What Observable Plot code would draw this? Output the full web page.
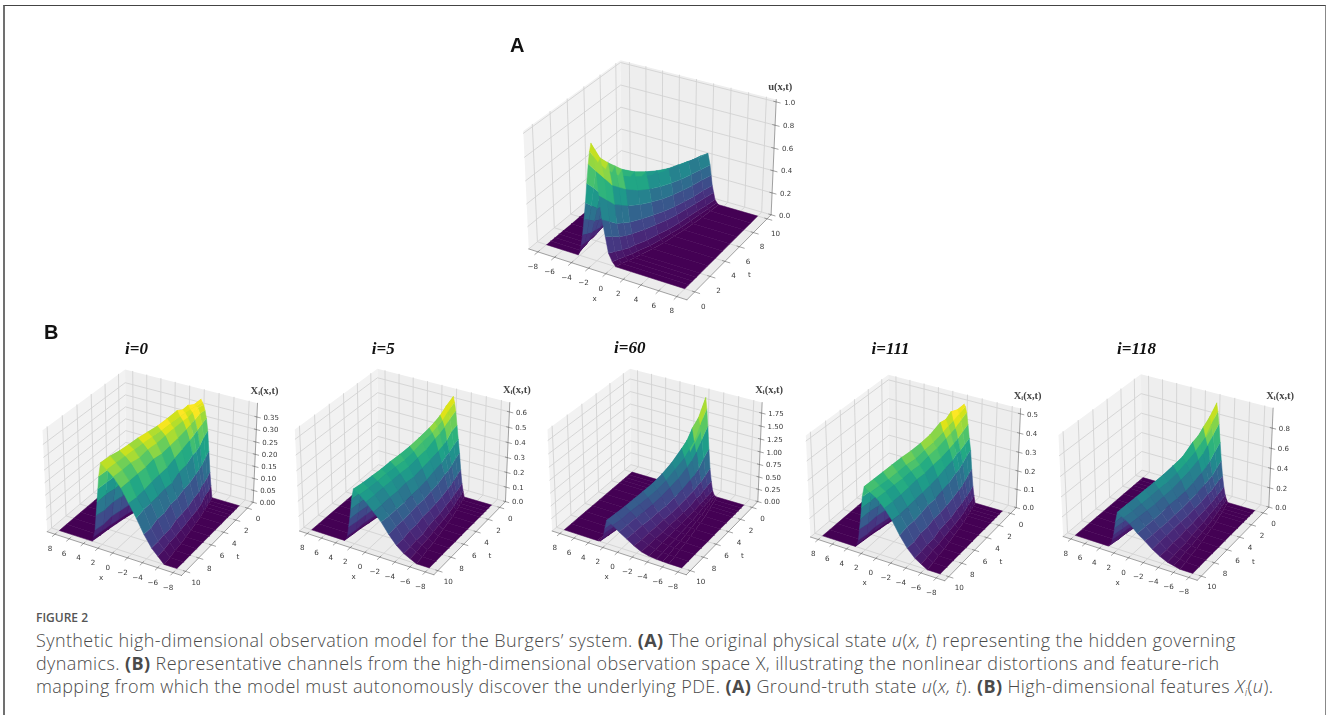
<!DOCTYPE html>
<html><head><meta charset="utf-8">
<script src="https://cdn.jsdelivr.net/npm/d3@7"></script>
<script src="https://cdn.jsdelivr.net/npm/@observablehq/plot@0.6"></script>
<style>
html,body{margin:0;padding:0;background:#fff}
#page{position:relative;width:1328px;height:715px;overflow:hidden;background:#fff}
#frame{position:absolute;left:3px;top:5px;width:1320px;height:720px;border-left:2.5px solid #707070;border-top:1.5px solid #444;border-right:1.5px solid #888}
#chart{position:absolute;left:0;top:0}
#chart svg{filter:blur(.35px)}
#cap{position:absolute;left:36px;top:608px;width:1270px;color:#4a4a4a;font-family:"Open Sans",sans-serif;font-weight:300;font-size:18px;letter-spacing:.4px;line-height:23px;white-space:nowrap}
#cap .h{font-size:12px;font-weight:600;color:#555;line-height:20px;margin-bottom:1px;letter-spacing:0}
#cap b{font-weight:700}
#cap sub{font-size:11px;line-height:0;vertical-align:-3px}
</style></head><body>
<div id="page"><div id="frame"></div><div id="chart"></div>
<div id="cap"><div class="h">FIGURE 2</div>
Synthetic high-dimensional observation model for the Burgers’ system. <b>(A)</b> The original physical state <i>u</i>(<i>x, t</i>) representing the hidden governing<br>
dynamics. <b>(B)</b> Representative channels from the high-dimensional observation space X, illustrating the nonlinear distortions and feature-rich<br>
mapping from which the model must autonomously discover the underlying PDE. <b>(A)</b> Ground-truth state <i>u</i>(<i>x, t</i>). <b>(B)</b> High-dimensional features <i>X<sub>i</sub></i>(<i>u</i>).
</div></div>
<script>
const tRows=[0,.5,1,1.5,2,3,4,5,6,7,8,9,10];
// x position of each mesh knot per t row: left foot, eight up the slope, ridge, six down the front, front foot
const xKnots=[
[-4.2,-4.02,-3.84,-3.62,-3.41,-3.19,-2.98,-2.76,-2.58,-2.4,-1.88,-1.6,-1.31,-.97,-.63,-.2,.2],
[-4.4,-4.15,-3.9,-3.6,-3.3,-3,-2.7,-2.4,-2.15,-1.9,-1.44,-1.18,-.93,-.64,-.34,.03,.4],
[-4.5,-4.2,-3.9,-3.54,-3.18,-2.82,-2.46,-2.1,-1.8,-1.5,-1.06,-.82,-.58,-.29,0,.35,.7],
[-4.7,-4.35,-4,-3.58,-3.16,-2.74,-2.32,-1.9,-1.55,-1.2,-.76,-.52,-.28,.01,.3,.65,1],
[-4.8,-4.41,-4.02,-3.55,-3.08,-2.62,-2.15,-1.68,-1.29,-.9,-.48,-.25,-.02,.25,.53,.87,1.2],
[-5.1,-4.63,-4.16,-3.6,-3.03,-2.47,-1.9,-1.34,-.87,-.4,.02,.25,.48,.75,1.03,1.37,1.7],
[-5.3,-4.77,-4.24,-3.6,-2.97,-2.33,-1.7,-1.06,-.53,0,.42,.65,.88,1.15,1.43,1.77,2.1],
[-5.5,-4.91,-4.32,-3.61,-2.9,-2.2,-1.49,-.78,-.19,.4,.8,1.02,1.24,1.5,1.76,2.08,2.4],
[-5.7,-5.05,-4.4,-3.62,-2.84,-2.06,-1.28,-.5,.15,.8,1.18,1.39,1.6,1.85,2.09,2.4,2.7],
[-5.9,-5.2,-4.5,-3.66,-2.82,-1.98,-1.14,-.3,.4,1.1,1.46,1.66,1.86,2.09,2.32,2.61,2.9],
[-6,-5.26,-4.52,-3.63,-2.74,-1.86,-.97,-.08,.66,1.4,1.74,1.92,2.11,2.33,2.56,2.83,3.1],
[-6.2,-5.41,-4.62,-3.67,-2.72,-1.78,-.83,.12,.91,1.7,2.01,2.18,2.35,2.55,2.75,3,3.25],
[-6.3,-5.47,-4.64,-3.64,-2.65,-1.65,-.66,.34,1.17,2,2.28,2.43,2.59,2.77,2.95,3.18,3.4]];
const uA=[
[.04,.09,.19,.33,.48,.65,.82,.93,1,.78,.58,.38,.24,.1,.035],
[.03,.08,.17,.3,.43,.59,.74,.82,.86,.7,.52,.34,.215,.09,.03],
[.03,.07,.15,.26,.38,.52,.66,.74,.8,.62,.46,.3,.19,.08,.03],
[.03,.07,.14,.24,.36,.48,.61,.69,.75,.58,.43,.28,.175,.07,.025],
[.02,.06,.13,.23,.33,.45,.57,.64,.7,.54,.4,.26,.165,.07,.025],
[.02,.06,.12,.2,.3,.4,.51,.58,.63,.48,.36,.24,.15,.06,.02],
[.02,.05,.11,.19,.27,.37,.47,.53,.58,.44,.33,.22,.14,.06,.02],
[.02,.05,.1,.17,.25,.34,.43,.49,.54,.41,.305,.2,.125,.05,.02],
[.02,.05,.1,.17,.24,.33,.41,.47,.51,.39,.29,.19,.12,.05,.02],
[.02,.04,.09,.16,.23,.31,.39,.45,.49,.37,.275,.18,.115,.05,.02],
[.02,.04,.09,.15,.22,.3,.38,.43,.47,.36,.265,.17,.11,.05,.02],
[.02,.04,.08,.15,.21,.29,.36,.41,.45,.35,.26,.17,.105,.04,.015],
[.02,.04,.08,.14,.21,.28,.35,.4,.44,.34,.25,.16,.1,.04,.015]];
const x0=[
[.05,.105,.19,.27,.32,.35,.37,.38,.39,.37,.33,.29,.2,.115,.04],
[.04,.095,.175,.255,.305,.345,.365,.37,.375,.36,.315,.27,.19,.105,.04],
[.04,.085,.155,.23,.29,.33,.355,.365,.38,.35,.3,.255,.175,.095,.035],
[.04,.085,.15,.22,.28,.32,.345,.36,.37,.34,.29,.245,.165,.085,.03],
[.025,.07,.14,.215,.27,.31,.34,.355,.375,.33,.28,.23,.16,.085,.03],
[.025,.07,.13,.195,.255,.295,.33,.345,.36,.32,.27,.22,.145,.07,.025],
[.025,.06,.125,.19,.24,.285,.32,.335,.35,.31,.26,.21,.14,.07,.025],
[.025,.06,.115,.17,.225,.275,.31,.33,.345,.3,.25,.195,.13,.06,.02],
[.025,.06,.115,.17,.22,.275,.305,.325,.34,.29,.24,.19,.125,.06,.02],
[.025,.05,.105,.165,.215,.265,.295,.32,.335,.285,.23,.18,.12,.06,.02],
[.025,.05,.105,.16,.205,.26,.295,.315,.33,.28,.23,.175,.12,.06,.02],
[.025,.05,.095,.16,.2,.255,.29,.31,.33,.275,.225,.175,.11,.05,.02],
[.025,.05,.095,.15,.2,.25,.285,.305,.325,.27,.22,.165,.11,.05,.02]];
const x5=[
[.04,.09,.18,.29,.38,.47,.56,.615,.65,.54,.43,.32,.21,.1,.035],
[.03,.08,.165,.27,.355,.445,.52,.57,.6,.5,.4,.295,.19,.09,.03],
[.03,.07,.145,.24,.325,.4,.48,.52,.55,.46,.365,.27,.175,.08,.03],
[.03,.07,.135,.225,.31,.38,.455,.495,.52,.44,.345,.25,.16,.07,.025],
[.02,.06,.125,.215,.285,.36,.435,.47,.495,.42,.33,.24,.155,.07,.025],
[.02,.06,.115,.19,.27,.335,.395,.44,.46,.38,.3,.225,.14,.06,.02],
[.02,.05,.105,.18,.245,.315,.375,.41,.435,.355,.28,.21,.135,.06,.02],
[.02,.05,.1,.165,.23,.295,.35,.385,.415,.34,.265,.19,.12,.05,.02],
[.02,.05,.1,.165,.22,.29,.34,.375,.4,.325,.25,.18,.115,.05,.02],
[.02,.04,.09,.155,.21,.275,.33,.365,.385,.31,.24,.175,.11,.05,.02],
[.02,.04,.09,.145,.205,.27,.32,.35,.375,.3,.23,.165,.105,.05,.02],
[.02,.04,.08,.145,.2,.26,.31,.34,.365,.295,.23,.165,.1,.04,.015],
[.02,.04,.08,.135,.2,.25,.3,.335,.36,.29,.22,.155,.1,.04,.015]];
const x60=[
[.01,.03,.11,.29,.54,.92,1.36,1.69,1.9,1.25,.78,.37,.18,.04,.012],
[.01,.03,.09,.25,.45,.78,1.14,1.42,1.55,1.04,.66,.31,.15,.03,.01],
[.01,.02,.08,.2,.37,.62,.94,1.14,1.38,.85,.53,.25,.12,.03,.01],
[.01,.02,.07,.17,.34,.54,.82,1.02,1.18,.75,.46,.21,.1,.02,.008],
[.005,.015,.06,.16,.29,.49,.73,.9,1.06,.66,.41,.2,.09,.02,.008],
[.005,.015,.05,.12,.25,.4,.6,.76,.87,.55,.34,.17,.08,.015,.005],
[.005,.01,.045,.11,.21,.35,.52,.64,.75,.44,.28,.15,.07,.015,.005],
[.005,.01,.04,.09,.18,.3,.45,.56,.66,.38,.24,.12,.06,.01,.004],
[.005,.01,.04,.09,.17,.28,.4,.51,.6,.35,.22,.11,.055,.01,.004],
[.005,.01,.03,.08,.155,.26,.37,.475,.56,.32,.2,.1,.05,.01,.004],
[.005,.01,.03,.07,.145,.25,.36,.45,.52,.31,.19,.09,.045,.01,.004],
[.005,.01,.025,.07,.13,.23,.33,.41,.49,.3,.19,.09,.045,.01,.004],
[.005,.01,.025,.06,.13,.22,.31,.4,.46,.29,.18,.08,.04,.01,.004]];
const x111=[
[.04,.09,.18,.28,.34,.41,.47,.5,.51,.455,.37,.295,.2,.1,.035],
[.03,.08,.165,.26,.32,.385,.44,.47,.49,.43,.355,.28,.185,.09,.03],
[.03,.07,.145,.235,.3,.36,.41,.445,.49,.4,.33,.26,.17,.08,.03],
[.03,.07,.135,.22,.295,.345,.395,.43,.46,.38,.315,.25,.16,.07,.025],
[.02,.06,.125,.21,.275,.33,.38,.41,.455,.365,.3,.235,.15,.07,.025],
[.02,.06,.115,.19,.26,.31,.355,.38,.415,.345,.285,.225,.14,.06,.02],
[.02,.05,.105,.18,.24,.3,.34,.365,.395,.325,.265,.21,.135,.06,.02],
[.02,.05,.1,.165,.23,.285,.32,.345,.38,.315,.25,.19,.12,.05,.02],
[.02,.05,.1,.165,.22,.28,.315,.34,.37,.305,.24,.18,.115,.05,.02],
[.02,.04,.09,.155,.215,.27,.305,.33,.36,.295,.235,.175,.11,.05,.02],
[.02,.04,.09,.145,.205,.26,.3,.32,.35,.29,.23,.165,.11,.05,.02],
[.02,.04,.08,.145,.2,.255,.295,.315,.34,.28,.22,.165,.1,.04,.015],
[.02,.04,.08,.135,.2,.25,.29,.31,.33,.275,.215,.155,.1,.04,.015]];
const x118=[
[.03,.07,.15,.26,.41,.59,.77,.89,.97,.73,.52,.31,.195,.08,.03],
[.02,.06,.135,.24,.36,.52,.68,.79,.85,.64,.455,.27,.17,.07,.025],
[.02,.055,.12,.21,.31,.45,.6,.68,.77,.55,.395,.24,.15,.06,.02],
[.02,.055,.11,.19,.29,.41,.54,.63,.7,.51,.365,.22,.14,.055,.02],
[.015,.05,.1,.18,.27,.38,.5,.58,.66,.47,.34,.21,.13,.055,.02],
[.015,.05,.095,.16,.24,.33,.44,.51,.56,.41,.3,.19,.12,.05,.02],
[.015,.04,.09,.15,.22,.3,.4,.46,.52,.37,.27,.175,.11,.05,.02],
[.015,.04,.08,.135,.2,.28,.36,.42,.48,.34,.25,.16,.1,.04,.015],
[.015,.04,.08,.135,.19,.27,.34,.4,.45,.32,.235,.15,.095,.04,.015],
[.015,.03,.07,.13,.18,.25,.32,.38,.43,.3,.22,.145,.09,.04,.015],
[.015,.03,.07,.12,.175,.24,.31,.36,.41,.29,.21,.135,.085,.04,.015],
[.015,.03,.065,.12,.17,.23,.3,.34,.39,.285,.21,.135,.08,.03,.01],
[.015,.03,.065,.11,.17,.22,.29,.33,.37,.27,.2,.13,.08,.03,.01]];
const xTicks=[-8,-6,-4,-2,0,2,4,6,8];
const tTicks=[0,2,4,6,8,10];
const zTicksA=["0.0","0.2","0.4","0.6","0.8","1.0"];
const zTicks0=["0.00","0.05","0.10","0.15","0.20","0.25","0.30","0.35"];
const zTicks5=["0.0","0.1","0.2","0.3","0.4","0.5","0.6"];
const zTicks60=["0.00","0.25","0.50","0.75","1.00","1.25","1.50","1.75"];
const zTicks111=["0.0","0.1","0.2","0.3","0.4","0.5"];
const zTicks118=["0.0","0.2","0.4","0.6","0.8"];
const titles=["","i=0","i=5","i=60","i=111","i=118"];
const zNames=["u(x,t)","Xᵢ(x,t)","Xᵢ(x,t)","Xᵢ(x,t)","Xᵢ(x,t)","Xᵢ(x,t)"];

// camera of each panel (pixel placement of a 30° elevation view)
const panels=[
 {z:uA,zt:zTicksA,zh:1.02,cx:651.6,cy:174,s:158.5,sy:157,flip:false,lx:[594,298],lt:[749,274]},
 {z:x0,zt:zTicks0,zh:.404,cx:151.5,cy:467.2,s:134.7,sy:135,flip:true,tx:136,ty:348,lx:[100.7,576.7],lt:[237.3,555.7]},
 {z:x5,zt:zTicks5,zh:.66,cx:403.8,cy:466.5,s:134.7,sy:135,flip:true,tx:382.7,ty:348,lx:[353,576],lt:[489.5,555]},
 {z:x60,zt:zTicks60,zh:1.95,cx:656.3,cy:466.5,s:134.5,sy:135,flip:true,tx:629.3,ty:347,lx:[606,576],lt:[742,555]},
 {z:x111,zt:zTicks111,zh:.527,cx:914.7,cy:472.5,s:134.6,sy:135,flip:true,tx:890,ty:348,lx:[864,582],lt:[1000.5,561]},
 {z:x118,zt:zTicks118,zh:.995,cx:1167.3,cy:472,s:134.5,sy:135,flip:true,tx:1136,ty:348,lx:[1117,582],lt:[1253,561]}
];
const xl=-9.1,xh=9.1,tl=-1,th=10.6;
const U=[.866025,.5,0],V=[-.25,.433013,.866025],Wv=[.433013,-.75,.5],box=[1.1429,1.1429,.8572];
const dot=(p,q)=>p[0]*q[0]+p[1]*q[1]+p[2]*q[2];
function screen(p,a,b,c){
  const d=[(a-.5)*box[0],(b-.5)*box[1],(c-.5)*box[2]];
  const Z=dot(Wv,d),k=1/(1-Z/10);
  return {px:p.cx+p.s*dot(U,d)*k,py:p.cy-p.sy*dot(V,d)*k,depth:Z};
}
const fa=(p,x)=>{const a=(x-xl)/(xh-xl);return p.flip?1-a:a};
const fb=(p,t)=>{const b=(t-tl)/(th-tl);return p.flip?1-b:b};
const proj=(p,x,t,z)=>screen(p,fa(p,x),fb(p,t),z/p.zh);

const facets=[],panes=[],grid=[],edges=[],zLabels=[],xLabels=[],tLabels=[],zTitles=[];
let id=0;
const poly=(arr,pts,extra)=>{const k=id++;pts.forEach(q=>arr.push({...q,id:k,...extra}))};
panels.forEach((p,pi)=>{
  const Q=(a,b,c)=>screen(p,a,b,c);
  poly(panes,[Q(0,0,0),Q(1,0,0),Q(1,1,0),Q(0,1,0)],{f:"#ececec"});
  poly(panes,[Q(0,0,0),Q(0,1,0),Q(0,1,1),Q(0,0,1)],{f:"#f2f2f2"});
  poly(panes,[Q(0,1,0),Q(1,1,0),Q(1,1,1),Q(0,1,1)],{f:"#eeeeee"});
  xTicks.forEach(x=>{const a=fa(p,x);
    poly(grid,[Q(a,0,0),Q(a,1,0),Q(a,1,1)]);
    poly(edges,[Q(a,.015,0),Q(a,-.03,0)]);
    const e=Q(a,0,0);
    xLabels.push({px:e.px-5,py:e.py+14.5,label:String(x).replace("-","−")});
  });
  tTicks.forEach(t=>{const b=fb(p,t);
    poly(grid,[Q(1,b,0),Q(0,b,0),Q(0,b,1)]);
    poly(edges,[Q(.985,b,0),Q(1.03,b,0)]);
    const e=Q(1,b,0);
    tLabels.push({px:e.px+(p.flip?10.5:8.5),py:e.py+(p.flip?11:14.5),label:String(t)});
  });
  p.zt.forEach(l=>{const c=+l/p.zh;
    poly(grid,[Q(1,1,c),Q(0,1,c),Q(0,0,c)]);
    poly(edges,[Q(.985,1,c),Q(1.025,1,c)]);
    const e=Q(1,1,c);
    zLabels.push({px:e.px+(p.flip?6.5:8),py:e.py+.5,label:l});
  });
  poly(edges,[Q(0,0,0),Q(1,0,0)]);
  poly(edges,[Q(1,0,0),Q(1,1,0)]);
  poly(edges,[Q(1,1,0),Q(1,1,1)]);
  const top=Q(1,1,1);
  zTitles.push({px:top.px+(p.flip?7:4),py:top.py-12.5,label:zNames[pi]});
  const zmax=d3.max(p.z.flat())*.95;
  const cols=xKnots.map(r=>[-8,...r,8]);
  const rows=p.z.map(r=>[0,0,...r,0,0]);
  const cells=[];
  for(let i=0;i+1<tRows.length;i++)for(let j=0;j+1<cols[i].length;j++){
    const c=[[i,j],[i,j+1],[i+1,j+1],[i+1,j]].map(([a,b])=>({...proj(p,cols[a][b],tRows[a],rows[a][b]),zv:rows[a][b]}));
    // alternating tone per t strip, as the coarse stride gives the original surface
    cells.push({pts:c,depth:d3.mean(c,q=>q.depth),c:Math.min(1,d3.mean(c,q=>q.zv)/zmax*(i%2?1.05:.96))});
  }
  cells.sort((a,b)=>a.depth-b.depth);
  cells.forEach(c=>poly(facets,c.pts,{c:c.c}));
});
const textBase={x:"px",y:"py",text:"label",fontFamily:"DejaVu Sans",fill:"#3a3a3a"};
const fills=[...new Set(panes.map(d=>d.f))];
const titled=panels.filter(p=>p.tx);
const axisNames=panels.flatMap(p=>[{px:p.lx[0],py:p.lx[1],label:"x"},{px:p.lt[0],py:p.lt[1],label:"t"}]);
const plot=Plot.plot({
  width:1328,height:600,margin:0,
  x:{domain:[0,1328],range:[0,1328],axis:null},
  y:{domain:[0,600],range:[0,600],axis:null},
  color:{type:"linear",scheme:"viridis",domain:[0,1]},
  style:{background:"transparent",overflow:"visible"},
  marks:[
    ...fills.map(f=>Plot.line(panes.filter(d=>d.f===f),{x:"px",y:"py",z:"id",fill:f,stroke:"none"})),
    Plot.line(grid,{x:"px",y:"py",z:"id",stroke:"#d2d2d2",strokeWidth:.9}),
    Plot.line(edges,{x:"px",y:"py",z:"id",stroke:"#666",strokeWidth:.6}),
    Plot.line(facets,{x:"px",y:"py",z:"id",fill:"c",stroke:"c",strokeWidth:.5,strokeLinejoin:"round"}),
    Plot.text(xLabels,{...textBase,fontSize:7.2,textAnchor:"middle"}),
    Plot.text(tLabels,{...textBase,fontSize:7.2,textAnchor:"middle"}),
    Plot.text(zLabels,{...textBase,fontSize:7,textAnchor:"start"}),
    Plot.text(axisNames,{...textBase,fontSize:7.2,textAnchor:"middle"}),
    Plot.text(zTitles,{x:"px",y:"py",text:"label",fontFamily:"Liberation Serif",fontWeight:"bold",fontSize:10.5,fill:"#444",textAnchor:"middle"}),
    Plot.text(titled,{x:"tx",y:"ty",text:(d,i)=>titles[i+1],fontFamily:"Liberation Serif",fontWeight:"bold",fontStyle:"italic",fontSize:17,fill:"#111",textAnchor:"middle"}),
    Plot.text(["A","B"],{x:[516.7,50.7],y:[45,332],text:d=>d,fontFamily:"Liberation Sans",fontWeight:"bold",fontSize:20,fill:"#111",textAnchor:"middle"})
  ]
});
document.getElementById("chart").appendChild(plot);
</script></body></html>
